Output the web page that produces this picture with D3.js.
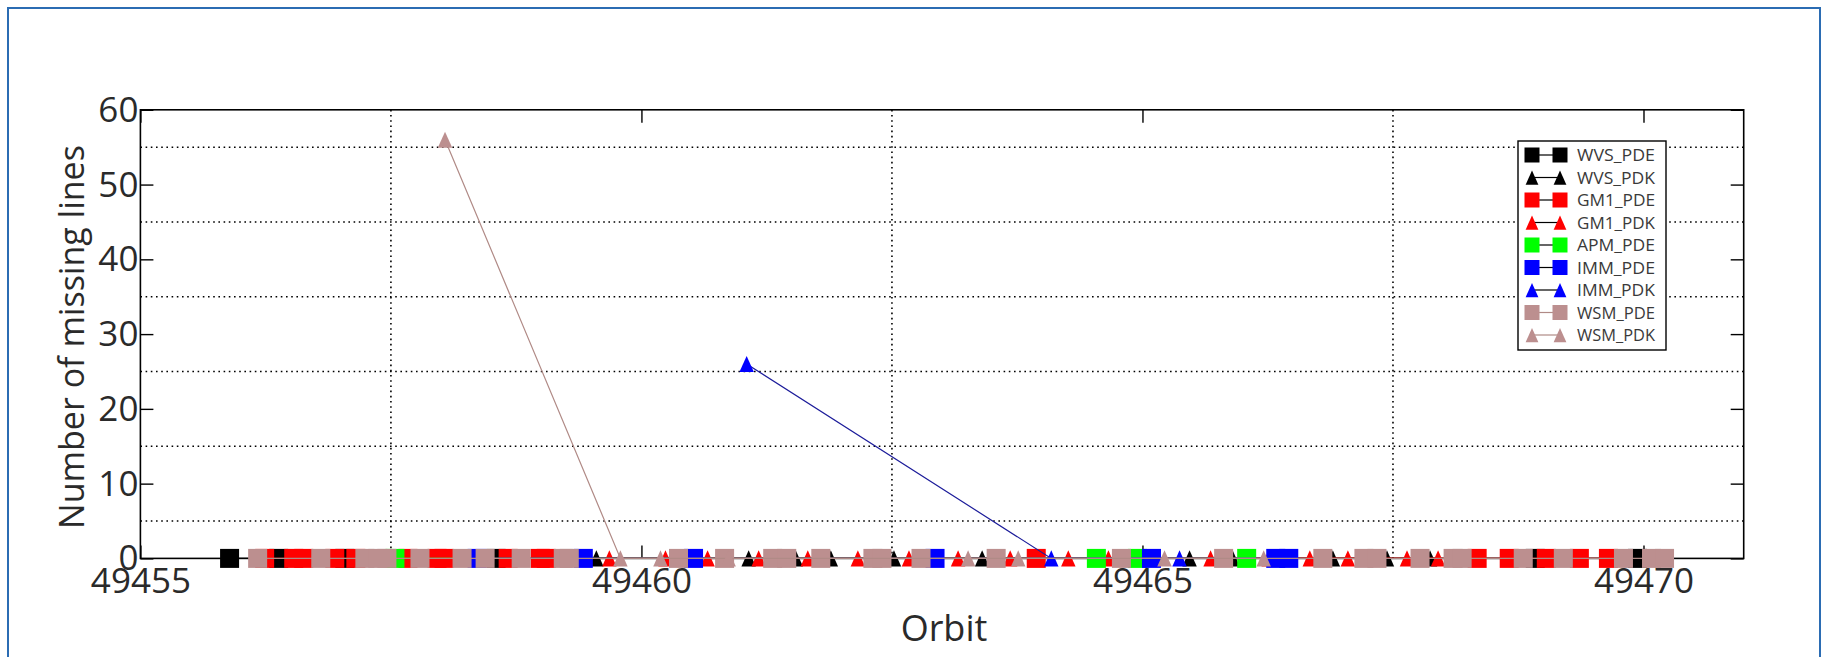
<!DOCTYPE html>
<html><head><meta charset="utf-8">
<script src="https://cdn.jsdelivr.net/npm/d3@7"></script>
<style>body{margin:0;background:#fff;} svg{display:block;}</style>
</head><body>
<svg id="chart" width="1835" height="657"></svg>
<script>
// ---------------- data ----------------
const seriesNames = ["WVS_PDE","WVS_PDK","GM1_PDE","GM1_PDK","APM_PDE","IMM_PDE","IMM_PDK","WSM_PDE","WSM_PDK"];
const seriesColors = ["#000000","#000000","#ff0000","#ff0000","#00ff00","#0000ff","#0000ff","#bc8f8f","#bc8f8f"];
const seriesShapes = ["square","triangle","square","triangle","square","square","triangle","square","triangle"];

const WVS_PDE_orbit = [49455.89,49456.38,49457.04,49458.55,49468.92,49469.94];
const WVS_PDE_lines = [0,0,0,0,0,0];
const WVS_PDK_orbit = [49459.55,49461.07,49461.54,49461.89,49462.52,49463.40,49465.47,49465.90,49466.90,49467.44,49467.87];
const WVS_PDK_lines = [0,0,0,0,0,0,0,0,0,0,0];
const GM1_PDE_orbit = [49456.24,49456.53,49456.63,49456.94,49457.15,49457.67,49457.96,49458.03,49458.67,49458.99,49459.05,49463.94,49468.34,49468.66,49469.03,49469.36,49469.65];
const GM1_PDE_lines = [0,0,0,0,0,0,0,0,0,0,0,0,0,0,0,0,0];
const GM1_PDK_orbit = [49459.68,49460.24,49460.66,49461.17,49461.66,49462.16,49462.67,49463.16,49463.68,49464.26,49464.66,49465.68,49466.26,49466.67,49467.05,49467.64,49467.95];
const GM1_PDK_lines = [0,0,0,0,0,0,0,0,0,0,0,0,0,0,0,0,0];
const APM_PDE_orbit = [49457.54,49464.54,49464.95,49466.04];
const APM_PDE_lines = [0,0,0,0];
const IMM_PDE_orbit = [49458.36,49459.42,49460.52,49462.93,49465.09,49466.33,49466.46];
const IMM_PDE_lines = [0,0,0,0,0,0,0];
const IMM_PDK_orbit = [49461.05,49464.09,49465.37];
const IMM_PDK_lines = [26,0,0];
const WSM_PDE_orbit = [49456.17,49456.80,49457.24,49457.37,49457.46,49457.79,49458.21,49458.44,49458.80,49459.22,49459.28,49460.37,49460.83,49461.31,49461.45,49461.79,49462.31,49462.40,49462.79,49463.54,49464.79,49465.81,49466.80,49467.21,49467.34,49467.77,49468.10,49468.19,49468.80,49469.20,49469.80,49470.08,49470.21];
const WSM_PDE_lines = [0,0,0,0,0,0,0,0,0,0,0,0,0,0,0,0,0,0,0,0,0,0,0,0,0,0,0,0,0,0,0,0,0];
const WSM_PDK_orbit = [49458.04,49459.79,49460.19,49460.87,49463.26,49463.76,49465.22,49466.21];
const WSM_PDK_lines = [56,0,0,0,0,0,0,0];

const xTickValues = [49455,49460,49465,49470];
const yTickValues = [0,10,20,30,40,50,60];
const xGridValues = [49457.5,49462.5,49467.5];
const yGridValues = [5,15,25,35,45,55];
const xLabel = "Orbit";
const yLabel = "Number of missing lines";

const seriesOrbits = [WVS_PDE_orbit,WVS_PDK_orbit,GM1_PDE_orbit,GM1_PDK_orbit,APM_PDE_orbit,IMM_PDE_orbit,IMM_PDK_orbit,WSM_PDE_orbit,WSM_PDK_orbit];
const seriesLines = [WVS_PDE_lines,WVS_PDK_lines,GM1_PDE_lines,GM1_PDK_lines,APM_PDE_lines,IMM_PDE_lines,IMM_PDK_lines,WSM_PDE_lines,WSM_PDK_lines];
const series = seriesNames.map((n,i)=>({name:n,color:seriesColors[i],shape:seriesShapes[i],
  pts:seriesOrbits[i].map((o,j)=>({x:o,y:seriesLines[i][j]}))}));

// ---------------- layout ----------------
const svg = d3.select("#chart");
const L = 140.4, R = 1743.7, T = 109.8, B = 558.4;
const x = d3.scaleLinear().domain([49455,49471]).range([L,R]);
const y = d3.scaleLinear().domain([0,60]).range([B,T]);
const FONT = "'Open Sans', 'DejaVu Sans', sans-serif";
const TXT = "#2a2a2a";

// outer frame
svg.append("rect").attr("x",8).attr("y",8).attr("width",1812).attr("height",660)
  .attr("fill","none").attr("stroke","#2b6cb3").attr("stroke-width",2);

// grid
const g = svg.append("g");
g.selectAll(".hg").data(yGridValues).join("line")
  .attr("x1",L).attr("x2",R).attr("y1",d=>y(d)).attr("y2",d=>y(d))
  .attr("stroke","#000").attr("stroke-width",1.6).attr("stroke-dasharray","1.6,3.6");
g.selectAll(".vg").data(xGridValues).join("line")
  .attr("x1",d=>x(d)).attr("x2",d=>x(d)).attr("y1",T).attr("y2",B)
  .attr("stroke","#000").attr("stroke-width",1.6).attr("stroke-dasharray","1.6,3.6");

// axes box
svg.append("rect").attr("x",L).attr("y",T).attr("width",R-L).attr("height",B-T)
  .attr("fill","none").attr("stroke","#000").attr("stroke-width",1.6);

const tick = 13;
const axB = svg.append("g").attr("transform",`translate(0,${B})`)
  .call(d3.axisBottom(x).tickValues(xTickValues).tickSize(-tick).tickSizeOuter(0).tickFormat(d3.format("d")).tickPadding(8));
const axT = svg.append("g").attr("transform",`translate(0,${T})`)
  .call(d3.axisTop(x).tickValues(xTickValues).tickSize(-tick).tickSizeOuter(0).tickFormat(""));
const axL = svg.append("g").attr("transform",`translate(${L},0)`)
  .call(d3.axisLeft(y).tickValues(yTickValues).tickSize(-tick).tickSizeOuter(0).tickPadding(2));
const axR = svg.append("g").attr("transform",`translate(${R},0)`)
  .call(d3.axisRight(y).tickValues(yTickValues).tickSize(-tick).tickSizeOuter(0).tickFormat(""));
[axB,axT,axL,axR].forEach(a=>{a.select(".domain").remove();
  a.selectAll(".tick line").attr("stroke","#000").attr("stroke-width",1.4);
  a.selectAll("text").attr("font-family",FONT).attr("font-size",35).attr("fill",TXT);});
axB.selectAll("text").attr("dy",null).attr("y",null)
  .attr("transform","translate(0,35)");
axL.selectAll("text").attr("dy","0.33em");

// axis labels
svg.append("text").attr("x",944).attr("y",641).attr("text-anchor","middle")
  .attr("font-family",FONT).attr("font-size",36).attr("fill",TXT).text(xLabel);
svg.append("text").attr("transform","translate(84,337) rotate(-90)").attr("text-anchor","middle")
  .attr("font-family",FONT).attr("font-size",34).attr("fill",TXT).text(yLabel);

// series
const plot = svg.append("g");
function marker(sel, shape, color, s){
  if(shape==="square"){
    sel.append("rect").attr("x",-s/2).attr("y",-s/2).attr("width",s).attr("height",s)
      .attr("fill",color);
  } else {
    const h = s*0.95, w = s*0.85;
    sel.append("path").attr("d",`M0,${-h/2}L${w/2},${h/2}L${-w/2},${h/2}Z`).attr("fill",color);
  }
}
const lineGen = d3.line().x(d=>x(d.x)).y(d=>y(d.y));
series.forEach(s=>{
  const lc = s.name==="IMM_PDK" ? "#1c1c9a" : (s.name.startsWith("WSM") ? "#b08a86" : s.color);
  plot.append("path").datum(s.pts).attr("d",lineGen).attr("fill","none")
    .attr("stroke",lc).attr("stroke-width",1.2);
  plot.append("g").selectAll("g").data(s.pts).join("g")
    .attr("transform",d=>`translate(${x(d.x)},${y(d.y)})`)
    .each(function(){ marker(d3.select(this), s.shape, s.color, s.shape==="square"?19:17); });
});

// legend
const lg = svg.append("g");
lg.append("rect").attr("x",1518).attr("y",141).attr("width",148).attr("height",209)
  .attr("fill","#fff").attr("stroke","#000").attr("stroke-width",1.4);
series.forEach((s,i)=>{
  const yy = 155 + i*22.5;
  lg.append("line").attr("x1",1532).attr("x2",1560).attr("y1",yy).attr("y2",yy)
    .attr("stroke", s.name.startsWith("WSM")? "#b08a86" : "#000").attr("stroke-width",1.2);
  [1532,1560].forEach(px=>{
    const m = lg.append("g").attr("transform",`translate(${px},${yy})`);
    marker(m, s.shape, s.color, 15);
  });
  lg.append("text").attr("x",1577).attr("y",yy).attr("dy","0.36em")
    .attr("font-family",FONT).attr("font-size",17).attr("fill","#3a3a3a")
    .attr("textLength",78).attr("lengthAdjust","spacingAndGlyphs").text(s.name);
});
</script>
</body></html>
